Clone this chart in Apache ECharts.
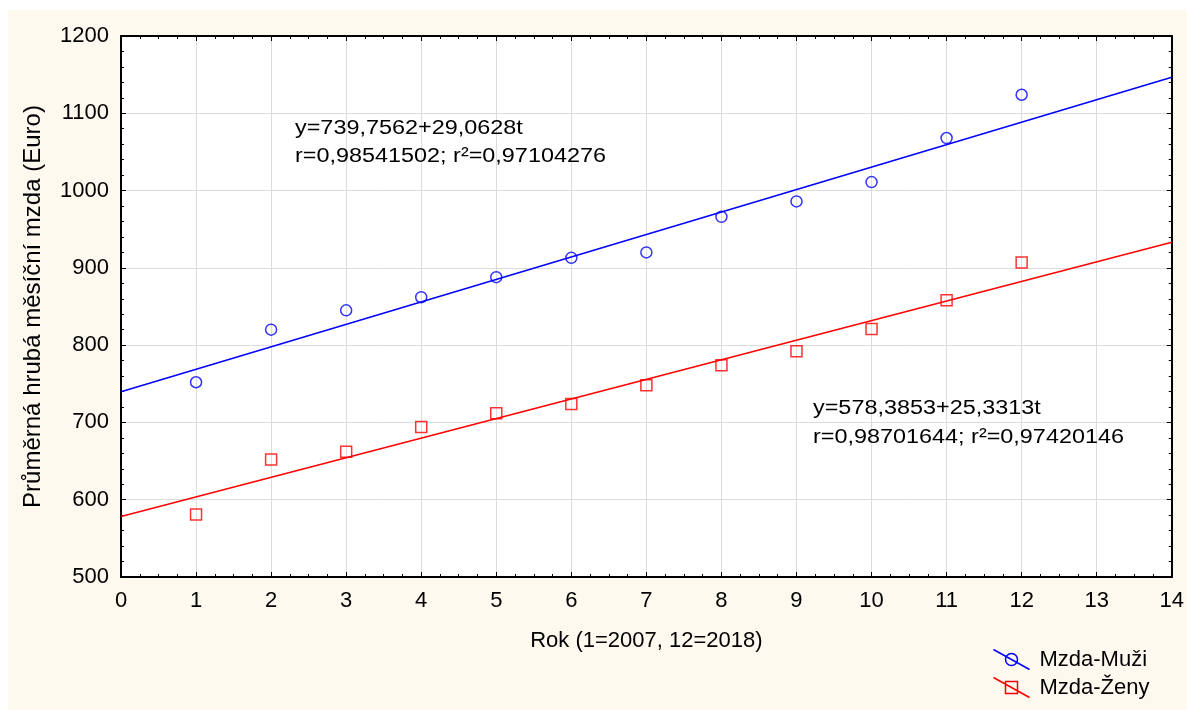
<!DOCTYPE html>
<html>
<head>
<meta charset="utf-8">
<script src="https://cdn.jsdelivr.net/npm/echarts@6/dist/echarts.min.js"></script>
<style>html,body{margin:0;padding:0;background:#fff}#c{width:1187px;height:710px}</style>
</head>
<body>
<div id="c"></div>
<script>
// ---- data ----
const years = [1, 2, 3, 4, 5, 6, 7, 8, 9, 10, 11, 12];
const mzdaMuzi = [752, 820, 845, 862, 888, 913, 920, 966, 986, 1011, 1068, 1124];
const mzdaZeny = [581, 652, 662, 694, 712, 724, 748, 774, 792, 821, 858, 907];
// regression lines (endpoints at t = 0 and t = 14, from fitted equations)
const fitT = [0, 14];
const fitMuzi = [739.7562, 1146.6354];
const fitZeny = [578.3853, 933.0235];
const seriesNames = ['Mzda-Muži', 'Mzda-Ženy'];
const eqMuzi = ['y=739,7562+29,0628t', 'r=0,98541502; r²=0,97104276'];
const eqZeny = ['y=578,3853+25,3313t', 'r=0,98701644; r²=0,97420146'];
const xName = 'Rok (1=2007, 12=2018)';
const yName = 'Průměrná hrubá měsíční mzda (Euro)';

const FONT = '"Liberation Sans", Arial, sans-serif';
const BLUE = '#0000ff', RED = '#ff0000';
const pair = (xs, ys) => xs.map((x, i) => [x, ys[i]]);

const chart = echarts.init(document.getElementById('c'), null, {renderer: 'canvas'});

const baseAxis = {
  type: 'value',
  axisLine: {show: true, onZero: false, lineStyle: {color: '#000', width: 2}},
  axisTick: {show: true, inside: true, length: 5, lineStyle: {color: '#000', width: 1}},
  minorTick: {show: true, length: 3, lineStyle: {color: '#000', width: 1}},
};

const eqText = (x, y, t) => ({
  type: 'text', z: 100, x: x, y: y, scaleX: 1.17, scaleY: 1,
  style: {x: 0, y: 0, text: t, font: '20px ' + FONT, fill: '#000', verticalAlign: 'middle', align: 'left'}
});

const legendBase = {
  orient: 'vertical',
  left: 991,
  padding: 0,
  itemWidth: 36, itemHeight: 20, itemGap: 8,
  textStyle: {fontSize: 22, color: '#000', fontFamily: FONT, padding: [0, 0, 0, 5]}
};

chart.setOption({
  backgroundColor: '#ffffff',
  animation: false,
  textStyle: {fontFamily: FONT},
  graphic: [
    {type: 'rect', z: -100, silent: true, shape: {x: 8, y: 10, width: 1179, height: 700}, style: {fill: '#fdf9ee'}},
    eqText(295, 128, eqMuzi[0]),
    eqText(295, 156, eqMuzi[1]),
    eqText(813, 408, eqZeny[0]),
    eqText(813, 437, eqZeny[1])
  ],
  grid: {left: 121, top: 36, right: 15, bottom: 133, show: true, backgroundColor: '#ffffff', borderWidth: 0, containLabel: false},
  legend: [
    Object.assign({}, legendBase, {
      top: 647,
      data: [{name: seriesNames[0], icon: 'path://M0,0 L36,20 M24,10 A6,6 0 1,1 12,10 A6,6 0 1,1 24,10',
              itemStyle: {color: 'none', borderColor: BLUE, borderWidth: 1.5}}]
    }),
    Object.assign({}, legendBase, {
      top: 675,
      data: [{name: seriesNames[1], icon: 'path://M0,0 L36,20 M12,4 L24,4 L24,16 L12,16 Z',
              itemStyle: {color: 'none', borderColor: RED, borderWidth: 1.5}}]
    })
  ],
  xAxis: [
    Object.assign({}, baseAxis, {
      position: 'bottom', min: 0, max: 14, interval: 1,
      name: xName, nameLocation: 'middle', nameGap: 53,
      nameTextStyle: {fontSize: 22, color: '#000', fontFamily: FONT},
      axisLabel: {fontSize: 22, color: '#000', margin: 13, fontFamily: FONT, formatter: v => String(v)},
      splitLine: {show: true, lineStyle: {color: '#dcdcdc', width: 1}},
      minorTick: Object.assign({}, baseAxis.minorTick, {splitNumber: 4})
    }),
    Object.assign({}, baseAxis, {
      position: 'top', min: 0, max: 14, interval: 1,
      axisLabel: {show: false}, splitLine: {show: false},
      minorTick: Object.assign({}, baseAxis.minorTick, {splitNumber: 4})
    })
  ],
  yAxis: [
    Object.assign({}, baseAxis, {
      position: 'left', min: 500, max: 1200, interval: 100,
      name: yName, nameLocation: 'middle', nameGap: 76, nameRotate: 90,
      nameTextStyle: {fontSize: 24, color: '#000', fontFamily: FONT},
      axisLabel: {fontSize: 22, color: '#000', margin: 12, fontFamily: FONT, formatter: v => String(v)},
      splitLine: {show: true, lineStyle: {color: '#dcdcdc', width: 1}},
      minorTick: Object.assign({}, baseAxis.minorTick, {splitNumber: 5})
    }),
    Object.assign({}, baseAxis, {
      position: 'right', min: 500, max: 1200, interval: 100,
      axisLabel: {show: false}, splitLine: {show: false},
      minorTick: Object.assign({}, baseAxis.minorTick, {splitNumber: 5})
    })
  ],
  series: [
    {name: seriesNames[0], type: 'line', data: pair(fitT, fitMuzi), symbol: 'none',
     lineStyle: {color: BLUE, width: 1.5}, itemStyle: {color: BLUE}, z: 2, silent: true},
    {name: seriesNames[1], type: 'line', data: pair(fitT, fitZeny), symbol: 'none',
     lineStyle: {color: RED, width: 1.5}, itemStyle: {color: RED}, z: 2, silent: true},
    {name: seriesNames[0], type: 'scatter', data: pair(years, mzdaMuzi), symbol: 'circle', symbolSize: 11,
     itemStyle: {color: 'rgba(0,0,0,0)', borderColor: BLUE, borderWidth: 1.5}, z: 3},
    {name: seriesNames[1], type: 'scatter', data: pair(years, mzdaZeny), symbol: 'rect', symbolSize: 11,
     itemStyle: {color: 'rgba(0,0,0,0)', borderColor: RED, borderWidth: 1.5}, z: 3}
  ]
});
</script>
</body>
</html>
